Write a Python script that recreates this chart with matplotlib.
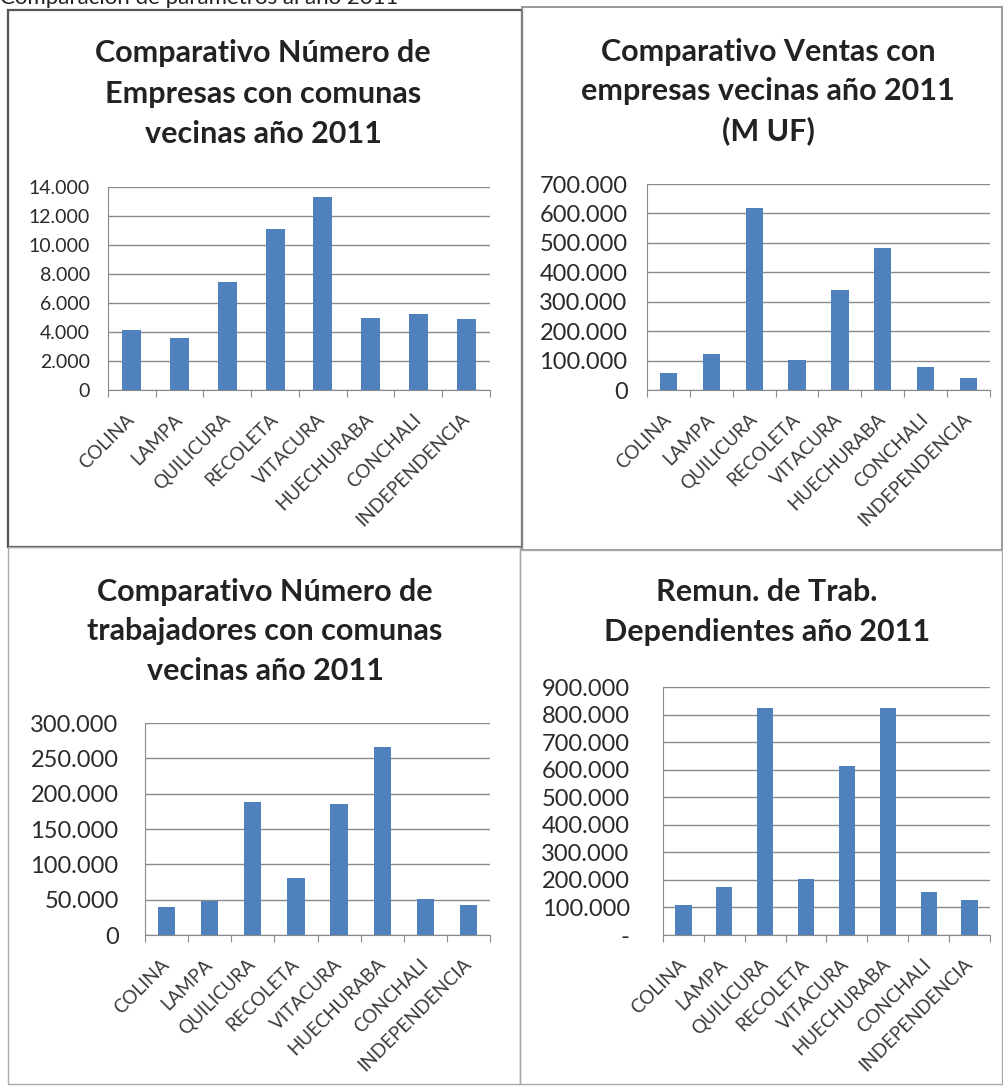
import matplotlib.pyplot as plt
from matplotlib.patches import Rectangle
from matplotlib.ticker import FuncFormatter, MultipleLocator
import numpy as np

comunas = ["COLINA", "LAMPA", "QUILICURA", "RECOLETA", "VITACURA",
           "HUECHURABA", "CONCHALI", "INDEPENDENCIA"]

empresas = [4150, 3580, 7430, 11120, 13330, 4980, 5230, 4870]
ventas = [59000, 122000, 619000, 102000, 340000, 481000, 77000, 40000]
trabajadores = [39000, 48000, 188000, 80000, 186000, 266000, 51000, 43000]
remuneraciones = [109000, 175000, 825000, 202000, 612000, 825000, 157000, 127000]

titles = [
    ["Comparativo Número de", "Empresas con comunas", "vecinas año 2011"],
    ["Comparativo Ventas con", "empresas vecinas año 2011", "(M UF)"],
    ["Comparativo Número de", "trabajadores con comunas", "vecinas año 2011"],
    ["Remun. de Trab.", "Dependientes año 2011"],
]

W, H = 1004, 1086
BAR = "#4F81BD"
GRID = "#8a8a8a"
plt.rcParams['font.family'] = ['Lato', 'DejaVu Sans']

fig = plt.figure(figsize=(W / 100, H / 100), dpi=100)


def px_box(l, t, r, b):
    return [l / W, 1 - b / H, (r - l) / W, (b - t) / H]


def thousands(zero_dash=False):
    def f(v, pos):
        if v == 0:
            return "-" if zero_dash else "0"
        return f"{int(round(v)):,}".replace(",", ".")
    return f


def panel(box, values, ymax, step, title, title_x, baselines, tick_fs, tick_pad,
          zero_dash=False):
    ax = fig.add_axes(px_box(*box))
    x = np.arange(len(comunas))
    ax.bar(x, values, width=0.4, color=BAR, zorder=3)
    ax.set_xlim(-0.5, len(comunas) - 0.5)
    ax.set_ylim(0, ymax)
    ax.yaxis.set_major_locator(MultipleLocator(step))
    ax.yaxis.set_major_formatter(FuncFormatter(thousands(zero_dash)))
    ax.grid(axis="y", color=GRID, linewidth=1.0, zorder=0)
    for s in ["top", "right"]:
        ax.spines[s].set_visible(False)
    ax.spines["left"].set_color(GRID)
    ax.spines["bottom"].set_color(GRID)
    ax.tick_params(axis="y", length=0, labelsize=tick_fs, colors="#2a2a2a", pad=tick_pad)
    ax.set_xticks(np.arange(len(comunas) + 1) - 0.5)
    ax.set_xticklabels([])
    ax.set_xticks(x, minor=True)
    ax.set_xticklabels(comunas, minor=True, rotation=45, ha="right", va="center",
                       rotation_mode="anchor", fontsize=13.5, color="#3a3a3a")
    ax.tick_params(axis="x", which="major", length=5, color=GRID, direction="out")
    ax.tick_params(axis="x", which="minor", length=0, pad=19)
    for line, yb in zip(title, baselines):
        fig.text(title_x / W, 1 - yb / H, line, ha="center", va="baseline",
                 fontsize=22, fontweight="bold", color="#222222")
    return ax


# panel frames
frames = [((8, 10, 522, 547), "#555555", 1.6),
          ((522, 7, 1002, 550), "#888888", 1.2),
          ((8, 547, 520, 1084), "#aaaaaa", 1.0),
          ((520, 550, 1002, 1084), "#aaaaaa", 1.0)]
for (l, t, r, b), col, lw in frames:
    fig.add_artist(Rectangle((l / W, 1 - b / H), (r - l) / W, (b - t) / H,
                             transform=fig.transFigure, fill=False,
                             edgecolor=col, linewidth=lw))

panel((108, 187, 490, 390), empresas, 14000, 2000, titles[0], 263, [62, 103, 143], 14, 13)
panel((647, 184, 990, 390), ventas, 700000, 100000, titles[1], 768, [61, 100, 140], 17, 14)
panel((145, 723, 490, 935), trabajadores, 300000, 50000, titles[2], 265, [601, 640, 680], 17, 19)
panel((663, 687, 990, 935), remuneraciones, 900000, 100000, titles[3], 767, [601, 641], 17, 24,
      zero_dash=True)

fig.text(0.0, 1 - 4 / H, "Comparación de parámetros al año 2011", ha="left", va="baseline",
         fontsize=16, color="#222222")

fig.savefig("out.png", dpi=100)
